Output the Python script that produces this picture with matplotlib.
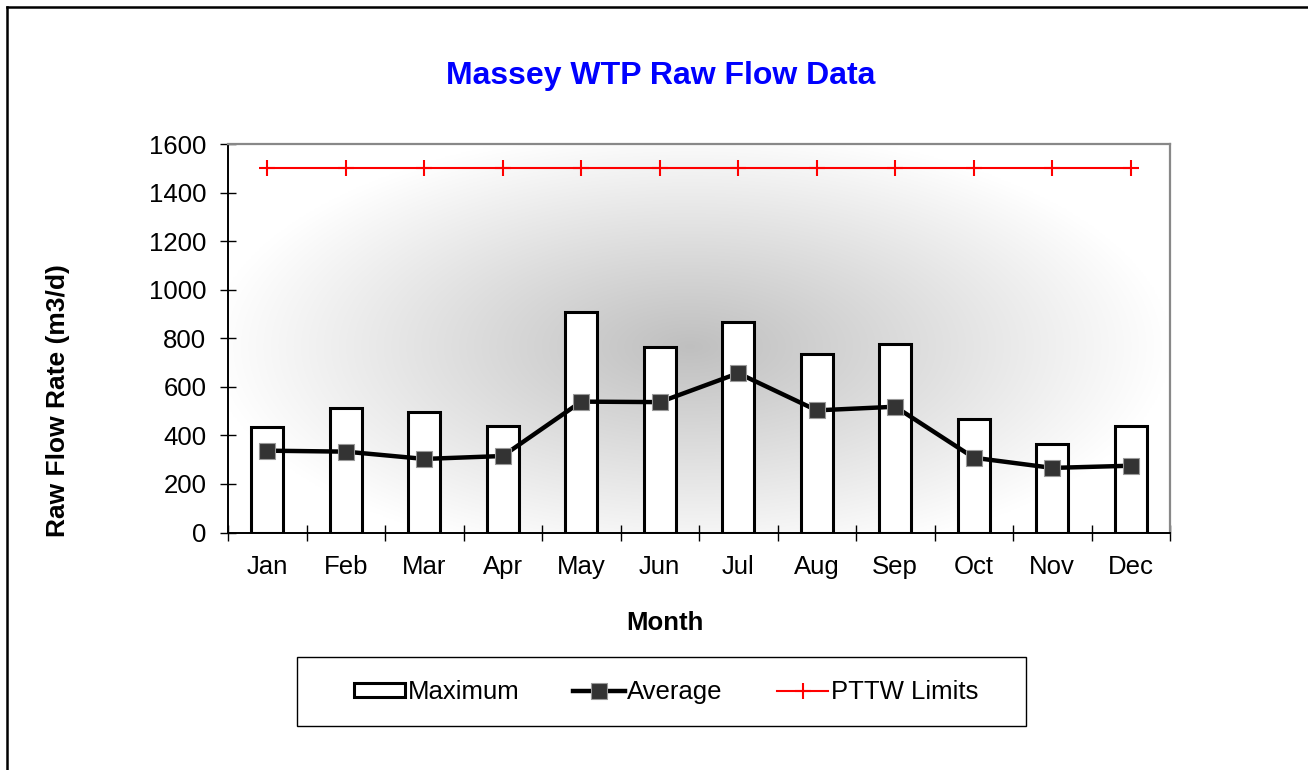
import numpy as np
import matplotlib
matplotlib.use("Agg")
import matplotlib.pyplot as plt
from matplotlib.patches import Rectangle, Patch
from matplotlib.lines import Line2D

plt.rcParams['font.family'] = ['Liberation Sans', 'DejaVu Sans']

months = ['Jan', 'Feb', 'Mar', 'Apr', 'May', 'Jun', 'Jul', 'Aug', 'Sep', 'Oct', 'Nov', 'Dec']
maximum = [436, 514, 498, 440, 907, 765, 868, 734, 776, 466, 363, 440]
average = [337, 333, 303, 315, 539, 537, 656, 503, 518, 308, 266, 275]
pttw_limits = [1500, 1500, 1500, 1500, 1500, 1500, 1500, 1500, 1500, 1500, 1500, 1500]
y_ticks = [0, 200, 400, 600, 800, 1000, 1200, 1400, 1600]

W, H = 1308, 770
fig = plt.figure(figsize=(W / 100, H / 100), dpi=100)
fig.patch.set_facecolor('white')

# outer border (left and top visible)
fig.add_artist(Line2D([7 / W, 7 / W], [0, 1 - 7 / H], color='black', lw=1.8, transform=fig.transFigure))
fig.add_artist(Line2D([7 / W, 1], [1 - 7 / H, 1 - 7 / H], color='black', lw=1.8, transform=fig.transFigure))

ax_l, ax_r, ax_t, ax_b = 228, 1170, 144, 532.5
ax = fig.add_axes([ax_l / W, 1 - ax_b / H, (ax_r - ax_l) / W, (ax_b - ax_t) / H])

x = np.arange(len(months))
ax.set_xlim(-0.5, len(months) - 0.5)

# radial gradient background
nx, ny = 600, 300
gx = np.linspace(0, 1, nx)
gy = np.linspace(0, 1, ny)
GX, GY = np.meshgrid(gx, gy)
cx, cy = (690 - ax_l) / (ax_r - ax_l), (330 - ax_t) / (ax_b - ax_t)
a, b = 480 / (ax_r - ax_l), 220 / (ax_b - ax_t)
r = np.sqrt(((GX - cx) / a) ** 2 + ((GY - cy) / b) ** 2)
t = np.clip(1 - r, 0, 1)
g = 1 - 0.25 * t
img = np.dstack([g, g, g])
ax.imshow(img, extent=[-0.5, len(months) - 0.5, 1600, 0], aspect='auto', zorder=0, origin='upper', interpolation='bilinear')
ax.set_ylim(0, 1600)

ax.bar(x, maximum, width=0.41, color='white', edgecolor='black', linewidth=2.2, zorder=2)
ax.plot(x, average, color='black', lw=3.2, marker='s', markersize=12, markerfacecolor='#333333',
        markeredgecolor='#999999', markeredgewidth=0.8, zorder=3)
ax.plot(x, pttw_limits, color='#ff0000', lw=1.5, marker='+', markersize=11, markeredgewidth=1.5, zorder=3)

for s in ['top', 'right']:
    ax.spines[s].set_color('#888888')
    ax.spines[s].set_linewidth(1.6)
for s in ['left', 'bottom']:
    ax.spines[s].set_color('black')
    ax.spines[s].set_linewidth(1.4)

ax.set_yticks(y_ticks)
ax.set_yticklabels([str(v) for v in y_ticks])
ax.tick_params(axis='y', direction='inout', length=11, width=1, pad=10, labelsize=18.5, colors='black')

ax.set_xticks(np.arange(-0.5, len(months), 1.0))
ax.set_xticklabels([])
ax.set_xticks(x, minor=True)
ax.set_xticklabels(months, minor=True)
ax.tick_params(axis='x', which='major', direction='inout', length=11, width=1, color='black')
ax.tick_params(axis='x', which='minor', length=0, pad=16, labelsize=18.5)

fig.text(661 / W, 1 - 76 / H, 'Massey WTP Raw Flow Data', ha='center', va='center',
         fontsize=23, fontweight='bold', color='#0000ff')
fig.text(665 / W, 1 - 623 / H, 'Month', ha='center', va='center', fontsize=18.5, fontweight='bold')
fig.text(58 / W, 1 - 401 / H, 'Raw Flow Rate (m3/d)', ha='center', va='center', rotation=90,
         fontsize=19, fontweight='bold')

# legend box
lx0, lx1, ly0, ly1 = 297, 1026, 657, 726
fig.add_artist(Rectangle((lx0 / W, 1 - ly1 / H), (lx1 - lx0) / W, (ly1 - ly0) / H,
                         transform=fig.transFigure, facecolor='white', edgecolor='black', lw=1.0))
handles = [
    Patch(facecolor='white', edgecolor='black', linewidth=2.2, label='Maximum'),
    Line2D([], [], color='black', lw=3.2, marker='s', markersize=12, markerfacecolor='#333333',
           markeredgecolor='#999999', markeredgewidth=0.8, label='Average'),
    Line2D([], [], color='#ff0000', lw=1.5, marker='+', markersize=11, markeredgewidth=1.5, label='PTTW Limits'),
]
leg = fig.legend(handles=handles, loc='center', bbox_to_anchor=(666 / W, 1 - 692 / H),
                 ncol=3, frameon=False, fontsize=18.5, handlelength=2.0, handleheight=0.5,
                 handletextpad=0.1, columnspacing=2.1, markerscale=1.0)

fig.savefig('out.png', dpi=100, facecolor='white')
